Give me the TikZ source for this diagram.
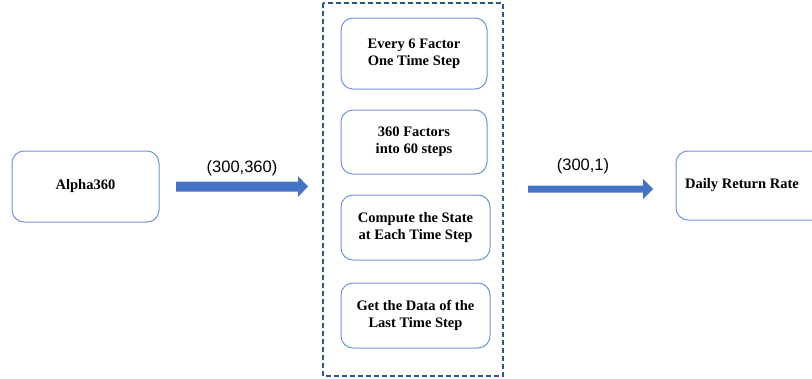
\documentclass[tikz,border=0pt]{standalone}
\usepackage{fontspec}
\setmainfont{Liberation Serif}
\newfontfamily\arialfont{Liberation Sans}
\usetikzlibrary{arrows.meta}
\definecolor{boxline}{RGB}{114,146,220}
\definecolor{arrowfill}{RGB}{68,114,196}
\definecolor{dashline}{RGB}{47,85,151}
\begin{document}
\begin{tikzpicture}[x=1pt,y=-1pt,
  rbox/.style={draw=boxline, line width=1pt, rounded corners=12pt, fill=white},
  btext/.style={font=\fontsize{14.5}{17}\selectfont\bfseries, align=center, inner sep=0pt},
  alabel/.style={font=\arialfont\fontsize{16.5}{19}\selectfont, inner sep=0pt},
  fatarrow/.style={fill=arrowfill, draw=none}
]
\useasboundingbox (0,0) rectangle (812,378);
% left box
\draw[rbox] (12,151) rectangle (159,222);
\node[btext] (alpha) at (85.5,186.5) {Alpha360};
% dashed container
\draw[dashline, line width=1.6pt, dash pattern=on 5pt off 3pt] (323,3) rectangle (503,376);
% inner boxes
\draw[rbox] (341,18) rectangle (487,89);
\node[btext] (b1) at (414,53.5) {Every 6 Factor\\One Time Step};
\draw[rbox] (341,110) rectangle (487,174);
\node[btext] (b2) at (414,142) {360 Factors\\into 60 steps};
\draw[rbox] (341,195) rectangle (490,260);
\node[btext] (b3) at (415.5,227.5) {Compute the State\\at Each Time Step};
\draw[rbox] (341,283) rectangle (490,348);
\node[btext] (b4) at (415.5,315.5) {Get the Data of the\\Last Time Step};
% right box
\draw[rbox] (676,151) rectangle (830,220);
\node[btext, anchor=west] (daily) at (685,185.5) {Daily Return Rate};
% arrow 1
\fill[fatarrow] (176,181.5) -- (298,181.5) -- (298,176) -- (308,186.5) -- (298,197) -- (298,191.5) -- (176,191.5) -- cycle;
\node[alabel] (l1) at (242,168) {(300,360)};
% arrow 2
\fill[fatarrow] (528,185.5) -- (643,185.5) -- (643,179) -- (653,189) -- (643,199) -- (643,192.5) -- (528,192.5) -- cycle;
\node[alabel] (l2) at (583,166) {(300,1)};
\end{tikzpicture}
\end{document}
